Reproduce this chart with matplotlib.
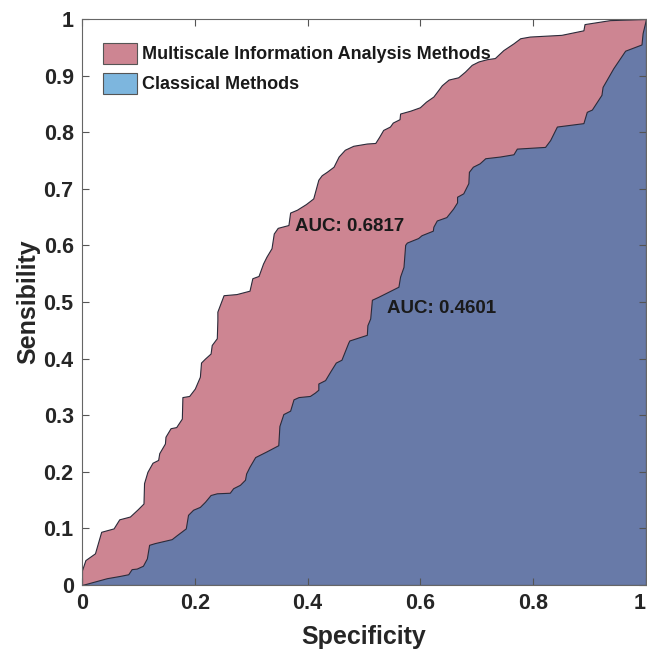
import matplotlib
matplotlib.use("Agg")
import matplotlib.pyplot as plt
from matplotlib.patches import Patch

plt.rcParams['font.family'] = ['Liberation Sans', 'DejaVu Sans']
plt.rcParams['font.weight'] = 'bold'

# Multiscale Information Analysis Methods ROC curve
pink_x = [0, 0, 0.006, 0.023, 0.034, 0.056, 0.066, 0.085, 0.099, 0.109, 0.110, 0.116, 0.125,
          0.135, 0.137, 0.147, 0.148, 0.157, 0.167, 0.177, 0.178, 0.190, 0.200, 0.209, 0.211,
          0.218, 0.228, 0.230, 0.239, 0.240, 0.240, 0.251, 0.274, 0.297, 0.302, 0.313, 0.321,
          0.327, 0.336, 0.340, 0.347, 0.366, 0.369, 0.381, 0.397, 0.410, 0.419, 0.425, 0.434,
          0.446, 0.455, 0.466, 0.481, 0.505, 0.520, 0.527, 0.534, 0.546, 0.551, 0.563, 0.564,
          0.582, 0.599, 0.610, 0.623, 0.638, 0.650, 0.667, 0.679, 0.691, 0.703, 0.718, 0.732,
          0.747, 0.765, 0.777, 0.794, 0.850, 0.889, 0.891, 0.936, 1.0]
pink_y = [0, 0.026, 0.044, 0.056, 0.094, 0.100, 0.116, 0.121, 0.134, 0.144, 0.180, 0.200, 0.216,
          0.221, 0.233, 0.250, 0.262, 0.277, 0.279, 0.294, 0.332, 0.334, 0.347, 0.368, 0.393,
          0.400, 0.409, 0.424, 0.436, 0.468, 0.483, 0.512, 0.514, 0.520, 0.542, 0.546, 0.568,
          0.580, 0.595, 0.621, 0.631, 0.636, 0.658, 0.663, 0.673, 0.683, 0.716, 0.724, 0.730,
          0.739, 0.757, 0.769, 0.776, 0.780, 0.781, 0.792, 0.804, 0.810, 0.817, 0.823, 0.833,
          0.838, 0.844, 0.854, 0.863, 0.883, 0.893, 0.897, 0.907, 0.919, 0.925, 0.929, 0.931,
          0.945, 0.957, 0.966, 0.969, 0.972, 0.980, 0.991, 0.998, 1.0]

# Classical Methods ROC curve
blue_x = [0, 0.044, 0.067, 0.082, 0.088, 0.097, 0.108, 0.115, 0.119, 0.129, 0.159, 0.168, 0.184,
          0.188, 0.197, 0.209, 0.218, 0.228, 0.239, 0.262, 0.268, 0.280, 0.289, 0.291, 0.297,
          0.307, 0.327, 0.348, 0.350, 0.357, 0.369, 0.375, 0.384, 0.404, 0.413, 0.419, 0.419,
          0.431, 0.440, 0.450, 0.460, 0.472, 0.474, 0.505, 0.506, 0.511, 0.514, 0.525, 0.561,
          0.564, 0.570, 0.573, 0.576, 0.596, 0.602, 0.622, 0.623, 0.629, 0.646, 0.658, 0.665,
          0.665, 0.676, 0.685, 0.686, 0.693, 0.705, 0.715, 0.741, 0.765, 0.771, 0.821, 0.830,
          0.842, 0.889, 0.895, 0.904, 0.921, 0.923, 0.942, 0.963, 0.992, 0.994, 1.0]
blue_y = [0, 0.012, 0.016, 0.019, 0.028, 0.029, 0.034, 0.047, 0.071, 0.074, 0.081, 0.088, 0.100,
          0.124, 0.133, 0.138, 0.147, 0.159, 0.162, 0.163, 0.171, 0.177, 0.186, 0.197, 0.209,
          0.226, 0.236, 0.247, 0.281, 0.302, 0.308, 0.328, 0.332, 0.334, 0.340, 0.345, 0.356,
          0.362, 0.377, 0.393, 0.398, 0.428, 0.432, 0.442, 0.459, 0.471, 0.504, 0.509, 0.527,
          0.545, 0.562, 0.601, 0.605, 0.613, 0.618, 0.626, 0.633, 0.644, 0.650, 0.665, 0.676,
          0.686, 0.692, 0.710, 0.730, 0.739, 0.745, 0.754, 0.757, 0.761, 0.771, 0.774, 0.786,
          0.810, 0.816, 0.836, 0.840, 0.866, 0.880, 0.913, 0.944, 0.955, 0.975, 1.0]

series_labels = ["Multiscale Information Analysis Methods", "Classical Methods"]
auc_labels = ["AUC: 0.6817", "AUC: 0.4601"]
yticks = [0, 0.1, 0.2, 0.3, 0.4, 0.5, 0.6, 0.7, 0.8, 0.9, 1]
ytick_labels = ['0', '0.1', '0.2', '0.3', '0.4', '0.5', '0.6', '0.7', '0.8', '0.9', '1']
xticks = [0, 0.2, 0.4, 0.6, 0.8, 1]
xtick_labels = ['0', '0.2', '0.4', '0.6', '0.8', '1']

pink = '#CD8592'
blue = '#687AA8'
legend_blue = '#7DB6DE'
edge = '#2b2b3a'
txt = '#1a1a1a'

fig = plt.figure(figsize=(6.47, 6.53), dpi=100)
ax = fig.add_axes([82/647, 68/653, 564/647, 566/653])

ax.fill_between(pink_x, pink_y, 0, facecolor=pink, edgecolor=edge, linewidth=0.8)
ax.fill_between(blue_x, blue_y, 0, facecolor=blue, edgecolor=edge, linewidth=0.8)

ax.set_xlim(0, 1)
ax.set_ylim(0, 1)
ax.set_xticks(xticks)
ax.set_xticklabels(xtick_labels)
ax.set_yticks(yticks)
ax.set_yticklabels(ytick_labels)
ax.tick_params(direction='in', length=5, width=0.8, color='#555555', top=True, right=True,
               labelsize=15.5, labelcolor='#262626', pad=6)
# keep the last x tick label inside the figure
ax.get_xticklabels()[-1].set_horizontalalignment('right')
for s in ax.spines.values():
    s.set_color('#666666')
    s.set_linewidth(0.8)

ax.set_xlabel('Specificity', fontsize=18, fontweight='bold', color='#262626', labelpad=8)
ax.set_ylabel('Sensibility', fontsize=18, fontweight='bold', color='#262626', labelpad=2)

ax.text(0.378, 0.634, auc_labels[0], fontsize=13.5, fontweight='bold', color=txt,
        ha='left', va='center')
ax.text(0.541, 0.488, auc_labels[1], fontsize=13.5, fontweight='bold', color=txt,
        ha='left', va='center')

handles = [Patch(facecolor=pink, edgecolor='#555555', linewidth=0.8),
           Patch(facecolor=legend_blue, edgecolor='#555555', linewidth=0.8)]
leg = ax.legend(handles, series_labels, loc='upper left', bbox_to_anchor=(0.037, 0.958),
                frameon=False, borderpad=0, borderaxespad=0, handlelength=1.9,
                handleheight=1.4, handletextpad=0.25, labelspacing=0.5,
                prop={'size': 13, 'weight': 'bold'})
for t in leg.get_texts():
    t.set_color(txt)

fig.savefig('out.png', dpi=100)
